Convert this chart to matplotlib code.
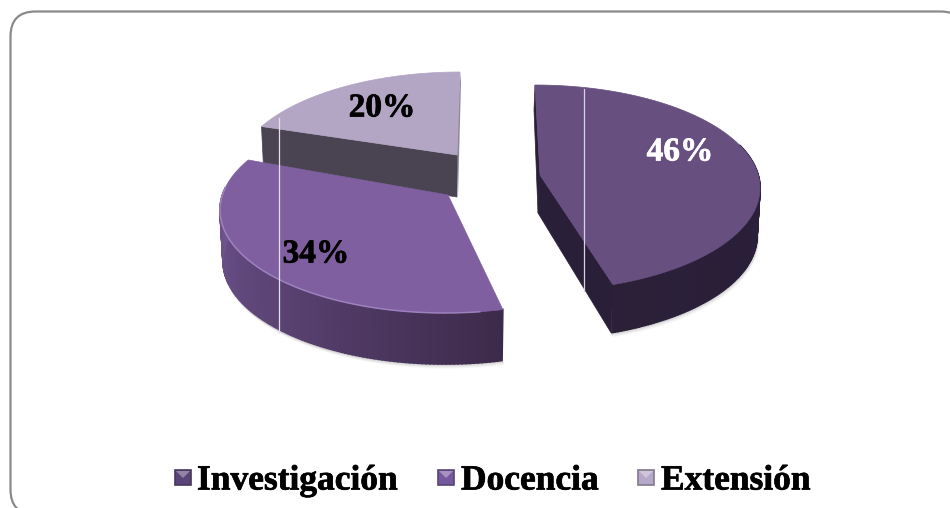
import numpy as np
import matplotlib
matplotlib.use("Agg")
import matplotlib.pyplot as plt
from matplotlib.patches import Polygon, Rectangle, FancyBboxPatch
from matplotlib.colors import to_rgb
import matplotlib.patheffects as pe

categories = ["Investigación", "Docencia", "Extensión"]
shares = [46, 34, 20]

# look of each slice: ellipse centre, vertex, depth (all in pixels)
top_colors = ["#674f80", "#7f5f9f", "#b3a6c4"]
centers = [(535, 188), (445, 210), (460, 175)]
vertices = [(540, 175), (448, 195), (457, 155)]
depths = [48, 51, 42]
label_pos = [(680, 152), (316, 254), (382, 108)]
label_colors = ["white", "black", "black"]
legend_x = [175, 438, 638]
legend_text_x = [197, 461, 661]
legend_colors = ["#5b4478", "#7658a0", "#b5a8c8"]
RX, RY = 225, 103

plt.rcParams["font.family"] = ["Liberation Serif", "DejaVu Serif"]

fig = plt.figure(figsize=(9.5, 5.08), dpi=100)
ax = fig.add_axes([0, 0, 1, 1])
ax.set_xlim(0, 950)
ax.set_ylim(508, 0)
ax.axis("off")

frame = FancyBboxPatch((10.5, 11.5), 955, 503, boxstyle="round,pad=0,rounding_size=25",
                       fc="white", ec="#8a8a8a", lw=1.6, zorder=0)
ax.add_patch(frame)


def warp(c):
    # perspective: the back of the pie looks squeezed, the front stretched
    return np.radians(90 - c + 11.6 * np.sin(np.radians(c)))


def arc(center, start, end, rx=RX, ry=RY, dy=0, n=80):
    c = np.linspace(start, end, n)
    t = warp(c)
    return center[0] + rx * np.cos(t), center[1] + dy - ry * np.sin(t)


def mix(a, b, f):
    a, b = np.array(to_rgb(a)), np.array(to_rgb(b))
    return tuple(a + (b - a) * f)


def wall(center, start, end, depth, c1, c2, c3, z):
    # front skin of a slice, one thin quad per step so the colour can slide
    x, y = arc(center, start, end, n=120)
    xb, yb = arc(center, start, end, rx=RX - 3, dy=depth, n=120)
    for i in range(len(x) - 1):
        f = (i + 0.5) / (len(x) - 1)
        col = mix(c1, c2, f * 2) if f < 0.5 else mix(c2, c3, f * 2 - 1)
        ax.add_patch(Polygon([(x[i], y[i]), (x[i + 1], y[i + 1]), (xb[i + 1], yb[i + 1]), (xb[i], yb[i])],
                             fc=col, ec=col, lw=1.2, zorder=z))
    # soft shadow under the wall
    for k, a in zip([1, 2, 3, 4], [0.22, 0.14, 0.08, 0.04]):
        ax.plot(xb + 0.4 * k, yb + k, color="#555555", alpha=a, lw=1, zorder=z - 0.5)


edges = np.cumsum([0] + shares) / sum(shares) * 360

# Extension (back slice)
s, e = edges[2], edges[3]
cen, ver, d = centers[2], vertices[2], depths[2]
xa, ya = arc(cen, s - 1, e)
ax.add_patch(Polygon([(xa[0], ya[0]), ver, (ver[0], ver[1] + d), (xa[0] + 2, ya[0] + d - 1)],
                     fc="#4a4452", ec="#4a4452", lw=0.5, zorder=2))
ax.add_patch(Polygon([(ver[0] - 0.5, ver[1]), (xa[-1], ya[-1]), (xa[-1] + 1, ya[-1] + 10), (ver[0] + 1, ver[1] + d)],
                     fc="#8d8a94", ec="none", zorder=1.5))
ax.add_patch(Polygon(list(zip(xa, ya)) + [ver], fc=top_colors[2], ec=top_colors[2], lw=0.5, zorder=3))

# Docencia (front left)
s, e = edges[1] + 2, edges[2]
cen, ver, d = centers[1], vertices[1], depths[1]
xa, ya = arc(cen, s, e)
split = s + (e - s) * 0.86
wall(cen, s, split, d, "#3c2a4a", "#5a4272", "#6f5490", 5)
ax.add_patch(Polygon(list(zip(xa, ya)) + [ver], fc=top_colors[1], ec=top_colors[1], lw=0.5, zorder=6))
xh, yh = arc(cen, s + 5, split)
ax.plot(xh, yh, color="#a78cc8", lw=1.1, alpha=0.8, zorder=6.5)

# Investigacion (right)
s, e = edges[0], edges[1] - 2.5
cen, ver, d = centers[0], vertices[0], depths[0]
xa, ya = arc(cen, s, e)
split = s + (e - s) * 0.47
wall(cen, split, e, d, "#2f2340", "#2a1f38", "#2c2039", 5)
ax.add_patch(Polygon([ver, (xa[-1], ya[-1]), (xa[-1] - 2, ya[-1] + d), (ver[0] - 2, ver[1] + 38)],
                     fc="#2a1f38", ec="#2a1f38", lw=0.5, zorder=5.5))
ax.add_patch(Polygon([(xa[0], ya[0]), (xa[0] - 1, ya[0] + 25), (ver[0] - 2, ver[1] + 38), ver],
                     fc="#2a1f38", ec="#2a1f38", lw=0.5, zorder=5.5))
ax.add_patch(Polygon(list(zip(xa, ya)) + [ver], fc=top_colors[0], ec=top_colors[0], lw=0.5, zorder=6))

# thin pale lines that run down through the slices in the picture
ax.plot([279, 279], [118, 333], color="#e6e0ee", lw=0.9, zorder=7)
ax.plot([584, 584], [89, 291], color="#d8d2e2", lw=0.9, zorder=7)

for i in range(len(shares)):
    ax.text(label_pos[i][0], label_pos[i][1], "%d%%" % shares[i], color=label_colors[i],
            fontsize=24, fontweight="bold", ha="center", va="center", zorder=8,
            path_effects=[pe.withStroke(linewidth=0.5, foreground=label_colors[i])])

    lx = legend_x[i]
    ax.add_patch(Rectangle((lx, 470), 16, 15, fc=legend_colors[i], ec=mix(legend_colors[i], "#222222", 0.35),
                           lw=1.2, zorder=4))
    ax.add_patch(Polygon([(lx + 1, 471), (lx + 15, 471), (lx + 8, 478)],
                         fc=mix(legend_colors[i], "white", 0.35), ec="none", zorder=5))
    ax.text(legend_text_x[i], 477, categories[i], color="black", fontsize=25.5, fontweight="bold",
            ha="left", va="center_baseline", zorder=8,
            path_effects=[pe.withStroke(linewidth=0.5, foreground="black")])

fig.savefig("out.png", dpi=100)
